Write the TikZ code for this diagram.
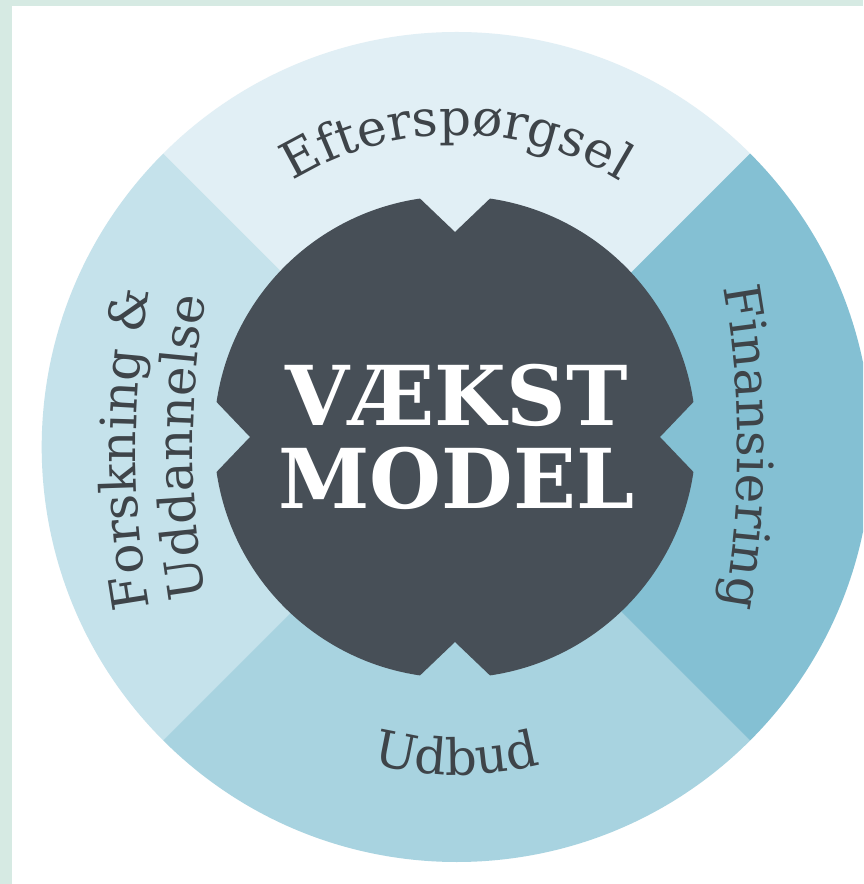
\documentclass[tikz,border=0pt]{standalone}
\usepackage{fontspec}
\setmainfont{DejaVu Serif}
\usetikzlibrary{decorations.text}

\definecolor{framegreen}{HTML}{D6EAE3}
\definecolor{topblue}{HTML}{E1EFF5}
\definecolor{leftblue}{HTML}{C5E2EB}
\definecolor{rightblue}{HTML}{84C0D3}
\definecolor{bottomblue}{HTML}{A8D3E0}
\definecolor{hubgray}{HTML}{474F57}
\definecolor{labelgray}{HTML}{3E4449}
\newcommand{\ringfont}{\fontsize{28.5}{30}\selectfont\color{labelgray}}

\begin{document}
\begin{tikzpicture}[x=0.02cm,y=0.02cm,
    ringtext/.style={decorate,
      decoration={text along path, text align=center, text={|\ringfont|#1}}}]
    % page and frame
    \useasboundingbox (-456.7,-437) rectangle (406.3,447);
    \fill[framegreen] (-456.7,-437) rectangle (406.3,447);
    \fill[white] (-444.7,-437) rectangle (406.3,441);

    \begin{scope}
        \clip (-456.7,-437) rectangle (406.3,447);
        % the four sectors of the ring
        \fill[topblue]    (0,0) -- (45:415)  arc[start angle=45,  end angle=135, radius=415] -- cycle;
        \fill[leftblue]   (0,0) -- (135:415) arc[start angle=135, end angle=225, radius=415] -- cycle;
        \fill[bottomblue] (0,0) -- (225:415) arc[start angle=225, end angle=315, radius=415] -- cycle;
        \fill[rightblue]  (0,0) -- (-45:415) arc[start angle=-45, end angle=45,  radius=415] -- cycle;
    \end{scope}

    % labels round the ring (the side ones only slightly bent)
    \path[ringtext={Efterspørgsel}] (150:312) arc[start angle=150, end angle=30, radius=312];
    \path[ringtext={Finansiering}]  (-618.7,0) ++(20:900) arc[start angle=20, end angle=-20, radius=900];
    \path[ringtext={Forskning {\&}}] (579.3,-2) ++(200:900) arc[start angle=200, end angle=160, radius=900];
    \path[ringtext={Uddannelse}]    (636.3,0) ++(200:900) arc[start angle=200, end angle=160, radius=900];
    \path[ringtext={Udbud}]         (220:328) arc[start angle=220, end angle=320, radius=328];

    % the hub with its four notches
    \begin{scope}[shift={(-1.7,10)}]
        \fill[hubgray] (8.35:241) arc[start angle=8.35, end angle=81.65, radius=241]
            -- (90:205) -- (98.35:241) arc[start angle=98.35, end angle=171.65, radius=241]
            -- (180:205) -- (188.35:241) arc[start angle=188.35, end angle=261.65, radius=241]
            -- (270:205) -- (278.35:241) arc[start angle=278.35, end angle=351.65, radius=241]
            -- (0:205) -- cycle;
        \node[text=white, align=center, inner sep=0pt,
              font=\fontsize{47}{47}\selectfont\bfseries] (vaekst) at (1.5,0) {VÆKST\\MODEL};
    \end{scope}
\end{tikzpicture}
\end{document}
